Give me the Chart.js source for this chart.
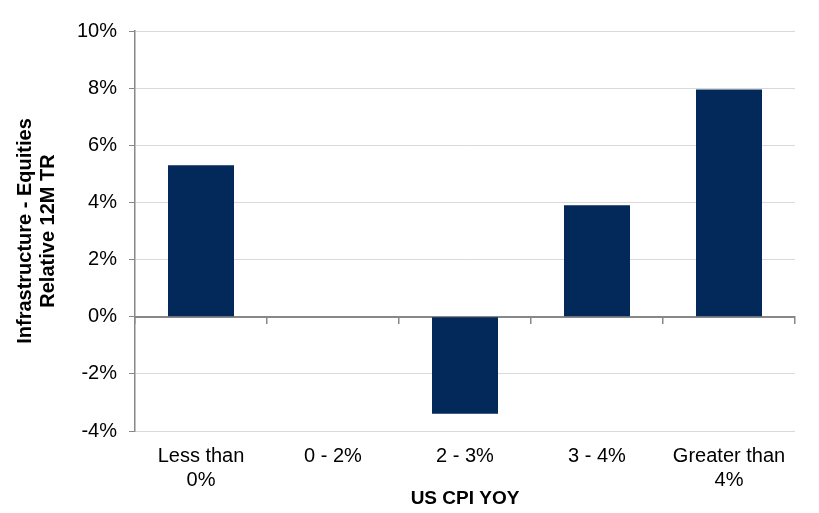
<!DOCTYPE html>
<html>
<head>
    <title>Infrastructure vs Equities by CPI</title>
    <script src="https://cdn.jsdelivr.net/npm/chart.js"></script>
    <style>
        body { margin: 0; background: #fff; }
        #wrap { width: 819px; height: 513px; }
    </style>
</head>
<body>
    <div id="wrap"><canvas id="cpiChart" width="819" height="513"></canvas></div>

    <script>
        const categories = [['Less than', '0%'], '0 - 2%', '2 - 3%', '3 - 4%', ['Greater than', '4%']];
        const relativeReturn = [5.3, 0, -3.4, 3.9, 7.95];
        const yTicks = [-4, -2, 0, 2, 4, 6, 8, 10];

        const font = 'Liberation Sans, Arial, sans-serif';

        new Chart(document.getElementById('cpiChart'), {
            type: 'bar',
            data: {
                labels: categories,
                datasets: [{
                    label: 'Relative 12M TR',
                    data: relativeReturn,
                    backgroundColor: '#03295A',
                    barPercentage: 0.5,
                    categoryPercentage: 1.0
                }]
            },
            options: {
                responsive: false,
                animation: false,
                layout: { padding: { top: 31, right: 24, bottom: 0, left: 0 } },
                plugins: { legend: { display: false }, tooltip: { enabled: false } },
                scales: {
                    x: {
                        position: 'bottom',
                        border: { display: false },
                        grid: { display: false, drawTicks: false },
                        ticks: { color: '#000', font: { family: font, size: 20 }, padding: 13, maxRotation: 0 },
                        title: { display: true, text: 'US CPI YOY', color: '#000', font: { family: font, size: 19, weight: 'bold' }, padding: { top: 0, bottom: 3 } },
                        afterFit: s => { s.height = 82; }
                    },
                    x2: {
                        type: 'category',
                        position: { y: 0 },
                        offset: true,
                        border: { display: true, color: '#888', width: 2 },
                        grid: { offset: true, drawOnChartArea: false, drawTicks: true, tickLength: 6, color: '#888', lineWidth: 1.5 },
                        ticks: { display: false }
                    },
                    y: {
                        min: -4,
                        max: 10,
                        afterBuildTicks: s => { s.ticks = yTicks.map(v => ({ value: v })); },
                        border: { display: true, color: '#888', width: 1.5 },
                        grid: {
                            color: c => c.tick && c.tick.value === 0 ? '#888' : '#d9d9d9',
                            tickColor: '#888',
                            tickLength: 6,
                            lineWidth: 1
                        },
                        ticks: { color: '#000', font: { family: font, size: 20 }, padding: 12, callback: v => v + '%' },
                        title: {
                            display: true,
                            text: ['Infrastructure - Equities', 'Relative 12M TR'],
                            color: '#000',
                            font: { family: font, size: 20, weight: 'bold', lineHeight: 1.15 },
                            padding: { top: 14, bottom: 4 }
                        },
                        afterFit: s => { s.width = 135; }
                    }
                }
            }
        });
    </script>
</body>
</html>
